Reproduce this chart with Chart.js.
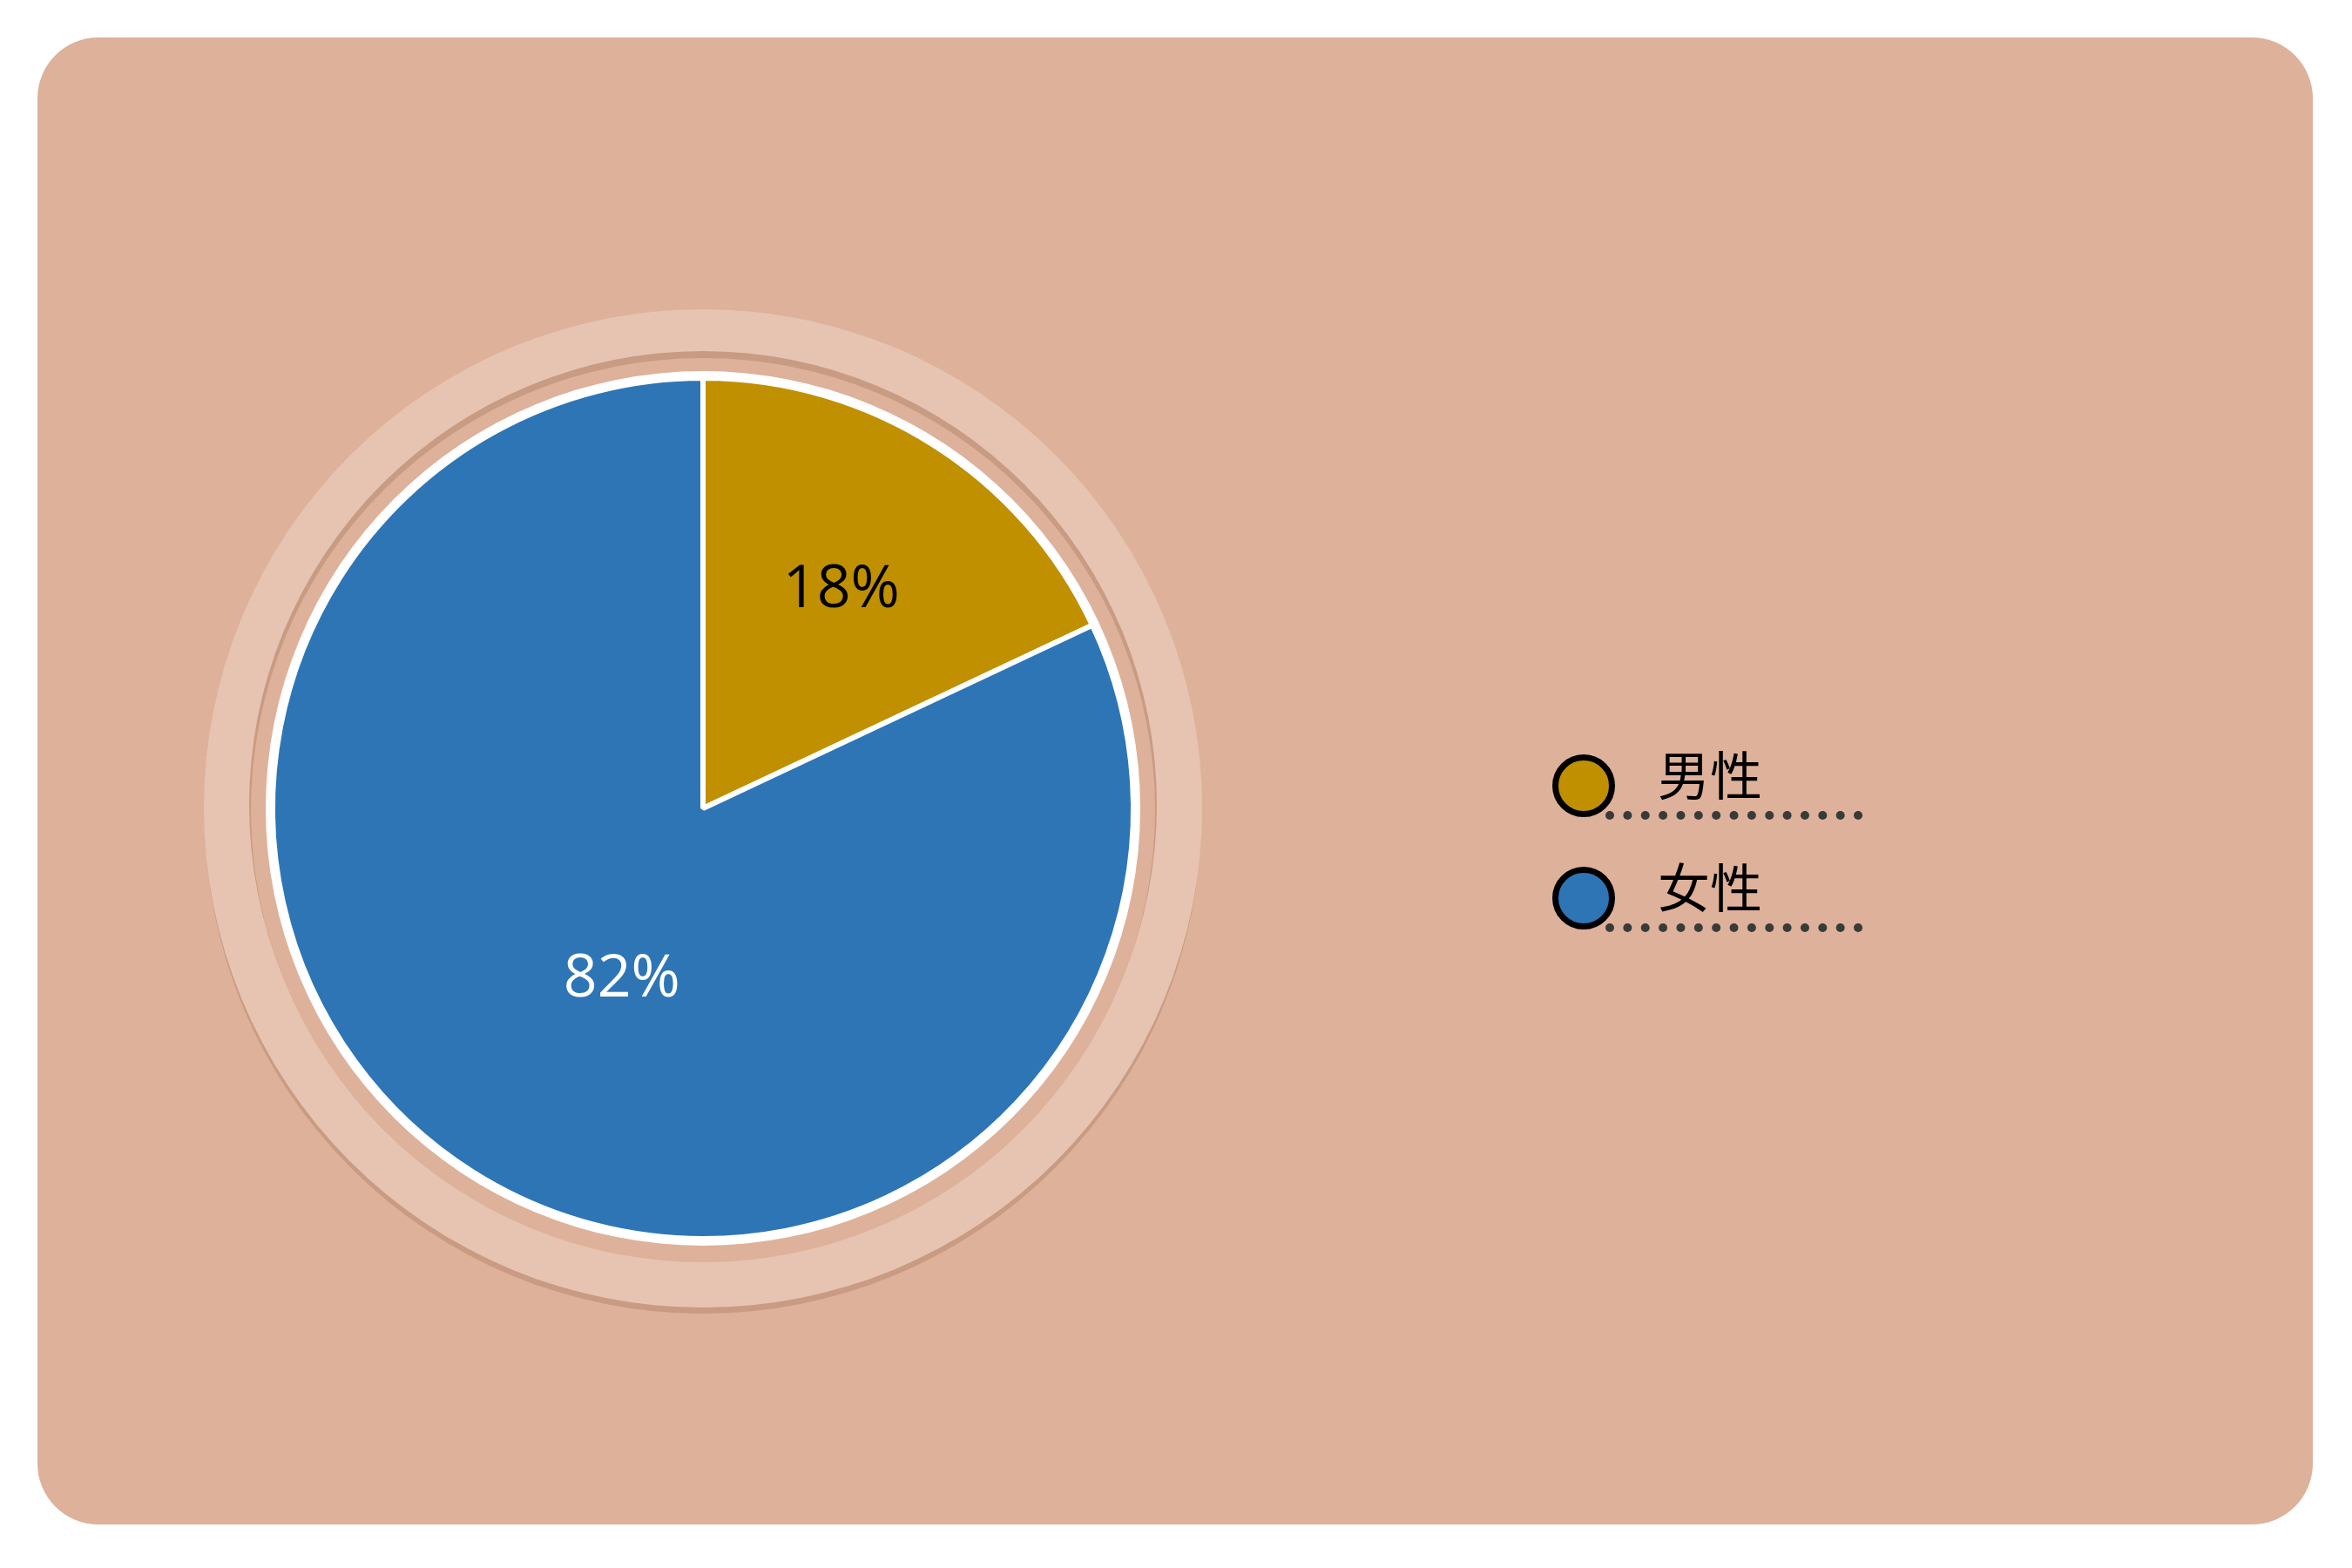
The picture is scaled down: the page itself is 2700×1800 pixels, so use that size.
<!DOCTYPE html>
<html>
<head>
<meta charset="utf-8">
<script src="https://cdn.jsdelivr.net/npm/chart.js@4/dist/chart.umd.min.js"></script>
<style>
  html, body { margin: 0; padding: 0; background: #ffffff; }
  #wrap { width: 2700px; height: 1800px; }
</style>
</head>
<body>
<div id="wrap"><canvas id="genderChart" width="2700" height="1800"></canvas></div>
<script>
// chart data
const categories = ['男性', '女性'];
const shares = [18, 82];
const sliceColors = ['#C09000', '#2E75B6'];
const valueLabelColors = ['#000000', '#FFFFFF'];

const CARD = '#DEB19A';

// card background behind everything
const cardPlugin = {
  id: 'card',
  beforeDraw(chart) {
    const ctx = chart.ctx;
    ctx.save();
    ctx.fillStyle = '#FFFFFF';
    ctx.fillRect(0, 0, chart.width, chart.height);
    ctx.fillStyle = CARD;
    ctx.beginPath();
    ctx.roundRect(43, 43, 2612, 1707, 70);
    ctx.fill();
    ctx.restore();
  }
};

// decorative rings around the pie
const ringPlugin = {
  id: 'rings',
  beforeDatasetsDraw(chart) {
    const arc = chart.getDatasetMeta(0).data[0];
    if (!arc) return;
    const { x, y, outerRadius } = arc.getProps(['x', 'y', 'outerRadius'], true);
    const ctx = chart.ctx;
    const disc = (cx, cy, r, color) => {
      ctx.beginPath();
      ctx.arc(cx, cy, r, 0, Math.PI * 2);
      ctx.fillStyle = color;
      ctx.fill();
    };
    ctx.save();
    disc(x, y + 8, outerRadius + 78, '#C99B82');   // outer drop shadow
    disc(x, y, outerRadius + 79, '#E7C4B1');       // light ring
    disc(x, y - 4, outerRadius + 27, '#C89B83');   // inner shadow at top
    disc(x, y + 2, outerRadius + 25, CARD);        // inner plate
    disc(x, y, outerRadius + 8, '#FFFFFF');        // white rim
    ctx.restore();
  }
};

// percentage text on the slices
const valueLabelPlugin = {
  id: 'valueLabels',
  afterDatasetsDraw(chart, args, opts) {
    const ctx = chart.ctx;
    const data = chart.data.datasets[0].data;
    const total = data.reduce((a, b) => a + b, 0);
    chart.getDatasetMeta(0).data.forEach((arc, i) => {
      const p = arc.getProps(['x', 'y', 'startAngle', 'endAngle', 'outerRadius'], true);
      const place = opts.placement[i];
      const mid = (p.startAngle + p.endAngle) / 2 + place.turn * Math.PI / 180;
      const r = p.outerRadius * place.frac;
      ctx.save();
      ctx.font = '68px "Open Sans", sans-serif';
      ctx.fillStyle = valueLabelColors[i];
      ctx.textAlign = 'center';
      ctx.textBaseline = 'middle';
      ctx.fillText(Math.round(data[i] / total * 100) + '%', p.x + Math.cos(mid) * r, p.y + Math.sin(mid) * r);
      ctx.restore();
    });
  }
};

// legend with dotted underline
const legendPlugin = {
  id: 'dotLegend',
  afterDraw(chart, args, opts) {
    const ctx = chart.ctx;
    const colors = chart.data.datasets[0].backgroundColor;
    chart.data.labels.forEach((label, i) => {
      const cy = opts.top + i * opts.step;
      ctx.save();
      // dots
      ctx.fillStyle = '#3A3A3A';
      for (let k = 0; k < 15; k++) {
        ctx.beginPath();
        ctx.arc(opts.left + 30 + k * 20.36, cy + 34, 5, 0, Math.PI * 2);
        ctx.fill();
      }
      // marker
      ctx.beginPath();
      ctx.arc(opts.left, cy, 32.5, 0, Math.PI * 2);
      ctx.fillStyle = colors[i];
      ctx.fill();
      ctx.lineWidth = 7;
      ctx.strokeStyle = '#000000';
      ctx.stroke();
      // text
      ctx.font = '400 60px "Noto Sans CJK SC", sans-serif';
      ctx.fillStyle = '#000000';
      ctx.textAlign = 'left';
      ctx.textBaseline = 'middle';
      ctx.fillText(label, opts.left + 85, cy - 12);
      ctx.restore();
    });
  }
};

const ctx = document.getElementById('genderChart').getContext('2d');
const genderChart = new Chart(ctx, {
  type: 'pie',
  data: {
    labels: categories,
    datasets: [{
      data: shares,
      backgroundColor: sliceColors,
      borderColor: '#FFFFFF',
      borderWidth: 6,
      radius: 494
    }]
  },
  options: {
    responsive: false,
    animation: false,
    events: [],
    layout: {
      padding: { left: 200, right: 1286, top: 300, bottom: 244 }
    },
    plugins: {
      legend: { display: false },
      tooltip: { enabled: false },
      title: { display: false },
      valueLabels: {
        placement: [{ frac: 0.6, turn: 0 }, { frac: 0.44, turn: -7 }]
      },
      dotLegend: { left: 1818, top: 902, step: 129 }
    }
  },
  plugins: [cardPlugin, ringPlugin, valueLabelPlugin, legendPlugin]
});
</script>
</body>
</html>
